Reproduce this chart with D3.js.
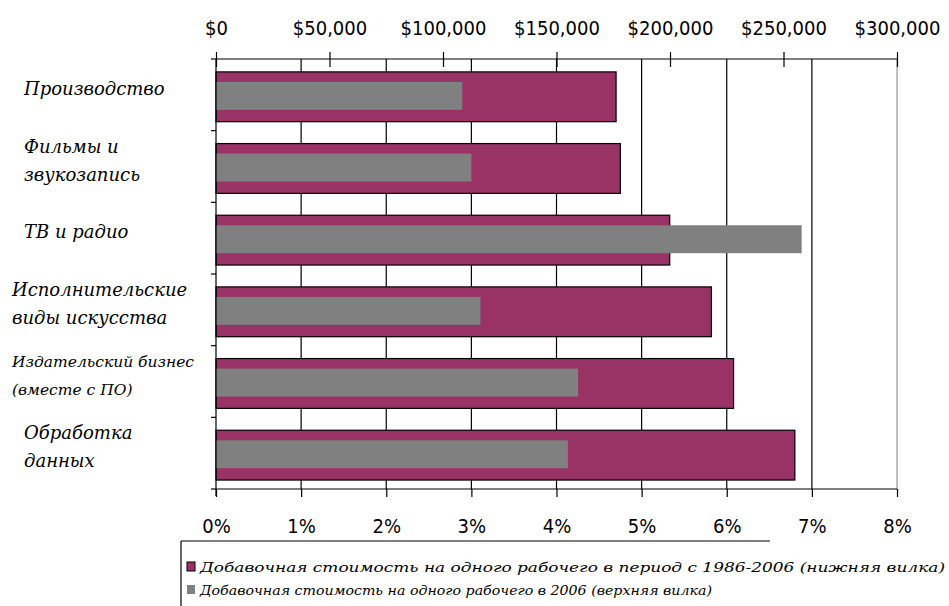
<!DOCTYPE html>
<html>
<head>
<meta charset="utf-8">
<script src="https://cdn.jsdelivr.net/npm/d3@7"></script>
<style>
  body { margin: 0; background: #fff; }
  svg { display: block; }
</style>
</head>
<body>
<svg id="chart" width="949" height="606"></svg>
<script>
// подписи категорий (по строкам, как на картинке)
var categories = ["Производство", "Фильмы и звукозапись", "ТВ и радио",
  "Исполнительские виды искусства", "Издательский бизнес (вместе с ПО)", "Обработка данных"];
var labelLines = [["Производство"], ["Фильмы и", "звукозапись"], ["ТВ и радио"],
  ["Исполнительские", "виды искусства"], ["Издательский бизнес", "(вместе с ПО)"], ["Обработка", "данных"]];
/*рост добавочной стоимости 1986-2006, % (нижняя вилка)*/
var growth = [4.70, 4.75, 5.33, 5.82, 6.08, 6.80];
/*добавочная стоимость на рабочего в 2006, $ (верхняя вилка)*/
var valuePerWorker = [108500, 112500, 258000, 116500, 159500, 155000];
var pctTicks = [0, 1, 2, 3, 4, 5, 6, 7, 8];
var usdTicks = [0, 50000, 100000, 150000, 200000, 250000, 300000];
var legendItems = [
  "Добавочная стоимость  на одного рабочего в период с 1986-2006 (нижняя вилка)",
  "Добавочная стоимость на одного рабочего в 2006 (верхняя вилка)"
];

var plotLeft = 216, plotRight = 897, plotTop = 59, plotBottom = 489;
var purple = "#993366", gray = "#808080";
var axisFont = "'Liberation Sans Narrow', 'DejaVu Sans Condensed', sans-serif";
var labelFont = "'DejaVu Serif', 'Liberation Serif', serif";

var svg = d3.select("#chart");

var xPct = d3.scaleLinear().domain([0, 8]).range([plotLeft, plotRight]);
var xUsd = d3.scaleLinear().domain([0, 300000]).range([plotLeft, plotRight]);
var y = d3.scaleBand().domain(categories).range([plotTop, plotBottom]).padding(0);
var step = y.step();

/*вертикальная сетка*/
svg.append("g")
  .selectAll("line")
  .data(pctTicks.slice(1))
  .enter().append("line")
    .attr("x1", d => xPct(d)).attr("x2", d => xPct(d))
    .attr("y1", plotTop).attr("y2", plotBottom)
    .attr("stroke", d => d === 8 ? "#9a9a9a" : "#000")
    .attr("stroke-width", 1.2);

/*столбцы: рост*/
svg.append("g")
  .selectAll("rect")
  .data(categories)
  .enter().append("rect")
    .attr("x", plotLeft)
    .attr("y", d => y(d) + step * 0.18)
    .attr("width", (d, i) => xPct(growth[i]) - plotLeft)
    .attr("height", step * 0.695)
    .attr("fill", purple)
    .attr("stroke", "#000")
    .attr("stroke-width", 1.2);

/*столбцы: стоимость на рабочего*/
svg.append("g")
  .selectAll("rect")
  .data(categories)
  .enter().append("rect")
    .attr("x", plotLeft)
    .attr("y", d => y(d) + step * 0.32)
    .attr("width", (d, i) => xUsd(valuePerWorker[i]) - plotLeft)
    .attr("height", step * 0.39)
    .attr("fill", gray);

/*рамка осей*/
svg.append("line").attr("x1", plotLeft).attr("x2", plotRight).attr("y1", plotTop).attr("y2", plotTop)
  .attr("stroke", "#000").attr("stroke-width", 1.2);
svg.append("line").attr("x1", plotLeft).attr("x2", plotRight).attr("y1", plotBottom).attr("y2", plotBottom)
  .attr("stroke", "#000").attr("stroke-width", 1.2);
svg.append("line").attr("x1", plotLeft).attr("x2", plotLeft).attr("y1", plotTop).attr("y2", plotBottom + 7)
  .attr("stroke", "#000").attr("stroke-width", 1.2);

/*верхняя ось, $*/
var topAxis = svg.append("g")
  .attr("transform", "translate(0," + plotTop + ")")
  .call(d3.axisTop(xUsd).tickValues(usdTicks).tickSize(7).tickPadding(17)
    .tickFormat(d => "$" + d3.format(",")(d)));
topAxis.append("g")
  .call(d3.axisBottom(xUsd).tickValues(usdTicks).tickSize(8).tickFormat(""));

/*нижняя ось, %*/
var bottomAxis = svg.append("g")
  .attr("transform", "translate(0," + plotBottom + ")")
  .call(d3.axisBottom(xPct).tickValues(pctTicks).tickSize(8).tickPadding(22)
    .tickFormat(d => d + "%"));

svg.selectAll(".domain").remove();
svg.selectAll(".tick line").attr("stroke", "#000").attr("stroke-width", 1.2);
svg.selectAll(".tick text")
  .attr("font-family", axisFont)
  .attr("font-size", 20)
  .attr("fill", "#000");

/*засечки категорий слева*/
svg.append("g")
  .selectAll("line")
  .data(categories.concat([null]))
  .enter().append("line")
    .attr("x1", plotLeft - 5).attr("x2", plotLeft)
    .attr("y1", (d, i) => plotTop + i * step).attr("y2", (d, i) => plotTop + i * step)
    .attr("stroke", "#000").attr("stroke-width", 1.2);

/*подписи категорий*/
var labels = svg.append("g")
  .selectAll("text")
  .data(categories)
  .enter().append("text")
    .attr("font-family", labelFont)
    .attr("font-style", "italic")
    .attr("font-size", (d, i) => d3.max(labelLines[i], s => s.length) > 16 ? 15.5 : 18)
    .attr("fill", "#000");

labels.each(function(d, i) {
  var lines = labelLines[i];
  var lh = 28;
  var cy = y(d) + step / 2 - 6;
  d3.select(this).selectAll("tspan")
    .data(lines)
    .enter().append("tspan")
      .attr("x", d3.max(lines, s => s.length) > 13 ? 12 : 24)
      .attr("y", (s, j) => cy + (j - (lines.length - 1) / 2) * lh)
      .attr("dy", "0.35em")
      .text(s => s);
});

/*легенда*/
var legend = svg.append("g");
legend.append("line").attr("x1", 181).attr("x2", 770).attr("y1", 541).attr("y2", 541)
  .attr("stroke", "#000").attr("stroke-width", 1.2);
legend.append("line").attr("x1", 181).attr("x2", 181).attr("y1", 541).attr("y2", 606)
  .attr("stroke", "#000").attr("stroke-width", 1.2);

var legendRows = legend.selectAll("g.row")
  .data(legendItems)
  .enter().append("g")
    .attr("class", "row")
    .attr("transform", (d, i) => "translate(0," + (567 + i * 23) + ")");

legendRows.append("rect")
  .attr("x", 187).attr("y", -5).attr("width", 8).attr("height", 9)
  .attr("fill", (d, i) => i === 0 ? purple : gray)
  .attr("stroke", (d, i) => i === 0 ? "#000" : "none")
  .attr("stroke-width", 1);

legendRows.append("text")
  .attr("x", 200)
  .attr("dy", "0.35em")
  .attr("font-family", labelFont)
  .attr("font-style", "italic")
  .attr("font-size", 13)
  .attr("textLength", (d, i) => i === 0 ? 745 : 512)
  .attr("lengthAdjust", "spacingAndGlyphs")
  .attr("fill", "#000")
  .text(d => d);
</script>
</body>
</html>
